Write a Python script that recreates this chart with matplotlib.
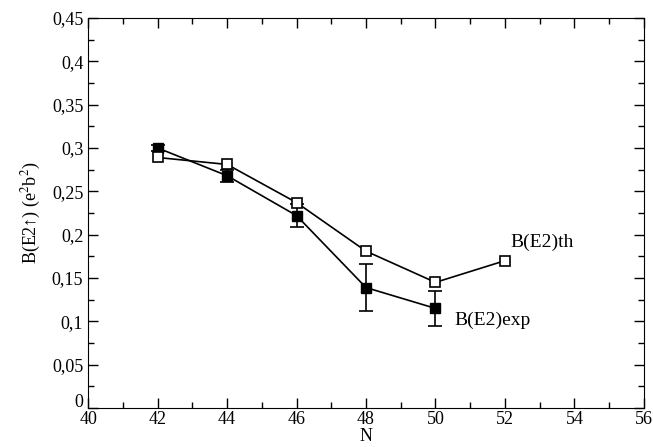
import matplotlib
matplotlib.use("Agg")
import matplotlib.pyplot as plt
import matplotlib.transforms as mtransforms
from matplotlib.ticker import MultipleLocator, FuncFormatter

plt.rcParams['font.family'] = ['Liberation Serif', 'DejaVu Sans']
plt.rcParams['mathtext.fontset'] = 'stix'

# theory
n_th = [42, 44, 46, 48, 50, 52]
be2_th = [0.289, 0.281, 0.237, 0.181, 0.145, 0.170]

# experiment
n_exp = [42, 44, 46, 48, 50]
be2_exp = [0.300, 0.268, 0.222, 0.139, 0.115]
err_exp = [0.003, 0.007, 0.013, 0.027, 0.020]

fig = plt.figure(figsize=(6.53, 4.47), dpi=100)
ax = fig.add_axes([0.135, 0.087, 0.851, 0.873])

ax.plot(n_th, be2_th, '-s', color='black', mfc='white', mec='black',
        ms=7.5, lw=1.2, mew=1.2, zorder=3)
ax.errorbar(n_exp, be2_exp, yerr=err_exp, fmt='-s', color='black', mfc='black',
            ms=7.5, lw=1.2, elinewidth=1.2, capsize=5, capthick=1.2, zorder=2)

ax.text(52.15, 0.181, "B(E2)th", fontsize=14, ha='left', va='bottom')
ax.text(50.55, 0.101, "B(E2)exp", fontsize=14, ha='left', va='center')

ax.set_xlim(40, 56)
ax.set_ylim(0, 0.45)
ax.xaxis.set_major_locator(MultipleLocator(2))
ax.xaxis.set_minor_locator(MultipleLocator(1))
ax.yaxis.set_major_locator(MultipleLocator(0.05))
ax.yaxis.set_minor_locator(MultipleLocator(0.025))

def comma(v, pos):
    if abs(v) < 1e-9:
        return ''  # the zero is drawn separately, a bit higher
    s = ('%.2f' % v).rstrip('0').rstrip('.')
    return s.replace('.', ',')

ax.yaxis.set_major_formatter(FuncFormatter(comma))
ax.tick_params(which='both', direction='in', top=True, right=True, labelsize=13)
ax.tick_params(which='major', length=7, width=1)
ax.tick_params(which='minor', length=4, width=1)
ax.tick_params(axis='x', pad=2)

# "0" of the y axis, raised above the corner like in the original
off = mtransforms.ScaledTranslation(-3.5 / 72, 0.5 / 72, fig.dpi_scale_trans)
ax.text(0, 0, "0", fontsize=13, ha='right', va='baseline',
        transform=ax.get_yaxis_transform() + off)

ax.set_xlabel("N", fontsize=13, labelpad=0)
ax.set_ylabel("B(E2\u2191) (e$^2$b$^2$)", fontsize=13, labelpad=6)

fig.savefig("out.png", dpi=100)
